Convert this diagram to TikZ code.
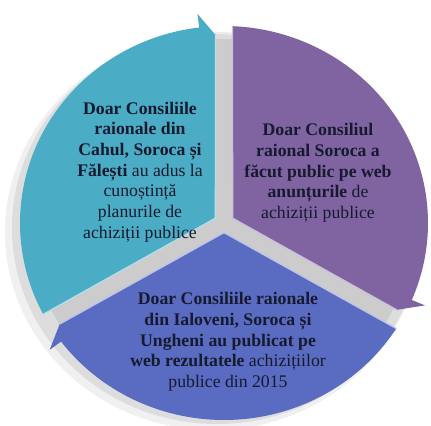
\documentclass[tikz,border=0pt]{standalone}
\usepackage{fontspec}
\setmainfont{Liberation Serif}
\usetikzlibrary{calc}
\definecolor{partteal}{HTML}{4BACC6}
\definecolor{partviolet}{HTML}{8064A2}
\definecolor{partblue}{HTML}{5A6BC2}
\definecolor{inkblue}{HTML}{151A2E}
\tikzset{parttext/.style={text=inkblue, align=center, inner sep=0pt, font=\fontsize{12.6}{14.7}\selectfont}}
% one piece of the cycle, #2 = angle where it starts (it runs clockwise)
\def\cyclepart[#1](#2){%
	\fill[#1] ({#2-60}:0.049) -- ({#2-2.4}:1) arc[start angle={#2-2.4}, end angle={#2-113}, radius=1] -- ({#2-113}:1.07) -- ({#2-117.5}:0.955) -- cycle;
	\draw[#1!40!white, line width=0.9pt] ({#2-117.5}:0.955) -- ({#2-60}:0.049) -- ({#2-2.4}:1);}

\begin{document}
\begin{tikzpicture}[x=0.025cm, y=-0.025cm]
		%%%%% START %%%%%
		\useasboundingbox (0,0) rectangle (431,425);
		
		% soft shadow under the pieces
		\fill[black, opacity=0.06] (213,232) ellipse [x radius=208, y radius=198];
		\fill[black, opacity=0.08] (217,228) ellipse [x radius=205, y radius=196];
		\fill[black!20] (222,225) ellipse [x radius=192, y radius=186];
		
		\begin{scope}[shift={(224,223)}, xscale=204, yscale=-197]
			\cyclepart[partteal](210)
			\cyclepart[partviolet](90)
			\cyclepart[partblue](330)
		\end{scope}
		
		\node[parttext] (tealtext) at (140,172) {\textbf{Doar Consiliile}\\ \textbf{raionale din}\\ \textbf{Cahul, Soroca și}\\ \textbf{Fălești} au adus la\\ cunoștință\\ planurile de\\ achiziții publice};
		
		\node[parttext] (violettext) at (318,173) {\textbf{Doar Consiliul}\\ \textbf{raional Soroca a}\\ \textbf{făcut public pe web}\\ \textbf{anunțurile} de\\ achiziții publice};
		
		\node[parttext] (bluetext) at (228,342) {\textbf{Doar Consiliile raionale}\\ \textbf{din Ialoveni, Soroca și}\\ \textbf{Ungheni au publicat pe}\\ \textbf{web rezultatele} achizițiilor\\ publice din 2015};
		
		%%%%% END %%%%%
	\end{tikzpicture}
\end{document}
